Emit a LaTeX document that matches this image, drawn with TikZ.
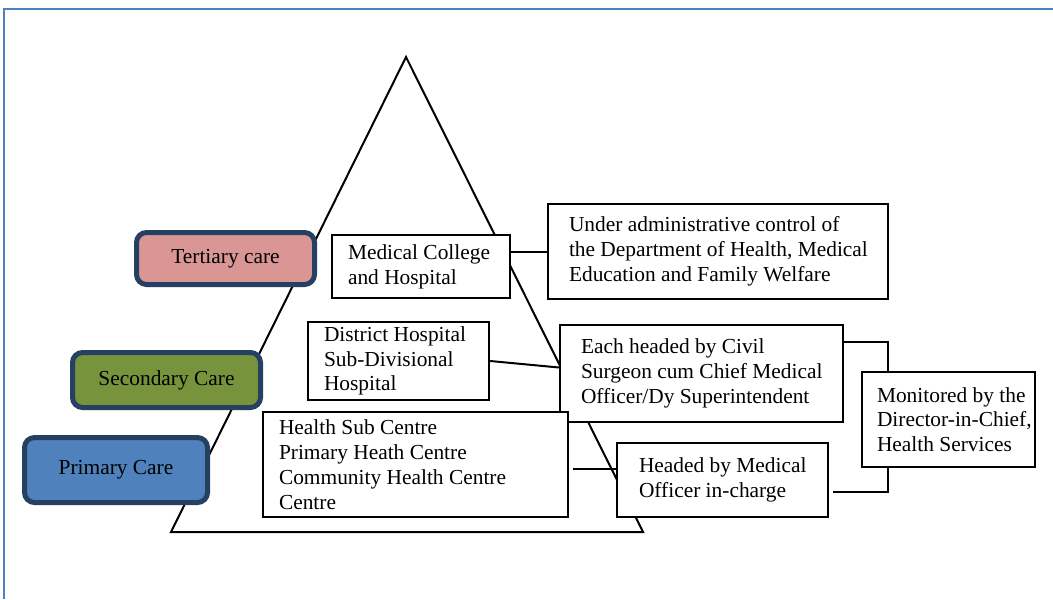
\documentclass[tikz,border=0pt]{standalone}
\usepackage{fontspec}
\setmainfont{Liberation Serif}
\usepackage{tikz}
\usetikzlibrary{positioning}
\definecolor{tierline}{RGB}{37,64,97}
\definecolor{tertiary}{RGB}{217,150,148}
\definecolor{secondary}{RGB}{119,147,60}
\definecolor{primary}{RGB}{79,129,189}
\tikzset{tier/.style = {draw=tierline, line width=2.5pt, rounded corners=5pt, inner sep=0, font=\fontsize{10.7}{12.5}\selectfont}}
\tikzset{infobox/.style = {draw, fill=white, line width=1.2pt, inner sep=0, align=flush left, font=\fontsize{10.7}{12.4}\selectfont, execute at begin node={\leftskip=#1}}}

\begin{document}
\begin{tikzpicture}[x=0.5pt, y=-0.5pt, line width=1pt]
        \useasboundingbox (0,0) rectangle (1053,599);
        \draw [primary] (3.5,599) -- (3.5,9) -- (1053,9);
        \draw (406,57) -- (643,532) -- (171,532) -- cycle;
        \node [tier, fill=tertiary, minimum width=89pt, minimum height=26pt] (tertiary) at (225.5,258.5) {Tertiary care};
        \node [tier, fill=secondary, minimum width=94pt, minimum height=27.5pt] (secondary) at (166.5,380) {Secondary Care};
        \node [tier, fill=primary, minimum width=91.5pt, minimum height=32.5pt] (primary) at (116,470) {Primary Care};
        \node [infobox=7.5pt, text width=88pt, minimum width=89pt, minimum height=31.5pt] (college) at (421,266.5) {Medical College\\and Hospital};
        \node [infobox=10pt, text width=169pt, minimum width=170pt, minimum height=47.5pt] (admin) at (718,251.5) {Under administrative control of\\the Department of Health, Medical\\Education and Family Welfare};
        \node [infobox=7.5pt, text width=89.5pt, minimum width=90.5pt, minimum height=39pt] (district) at (398.5,361) {District Hospital\\Sub-Divisional\\Hospital};
        \node [infobox=10pt, text width=140.5pt, minimum width=141.5pt, minimum height=48.5pt] (surgeon) at (701.5,373.5) {Each headed by Civil\\Surgeon cum Chief Medical\\Officer/Dy Superintendent};
        \node [infobox=7.5pt, text width=151.5pt, minimum width=152.5pt, minimum height=52.5pt] (subcentre) at (415.5,464.5) {Health Sub Centre\\Primary Heath Centre\\Community Health Centre\\Centre};
        \node [infobox=10.5pt, text width=104.5pt, minimum width=105.5pt, minimum height=37pt] (officer) at (722.5,480) {Headed by Medical\\Officer in-charge};
        \node [infobox=7pt, text width=85.5pt, minimum width=86.5pt, minimum height=47.5pt] (director) at (948.5,419.5) {Monitored by the\\Director-in-Chief,\\Health Services};
        \draw (college.east |- admin.west) -- (admin.west);
        \draw (district.east) -- ([yshift=3pt]surgeon.west);
        \draw ([xshift=2pt,yshift=-2pt]subcentre.east) -- ([yshift=-2pt]subcentre.east -| officer.west);
        \draw ([yshift=-9pt]surgeon.north east) -| ([xshift=13.5pt]director.north west);
        \draw ([xshift=2pt,yshift=-6pt]officer.east) -| ([xshift=13.5pt]director.south west);
    \end{tikzpicture}
\end{document}
